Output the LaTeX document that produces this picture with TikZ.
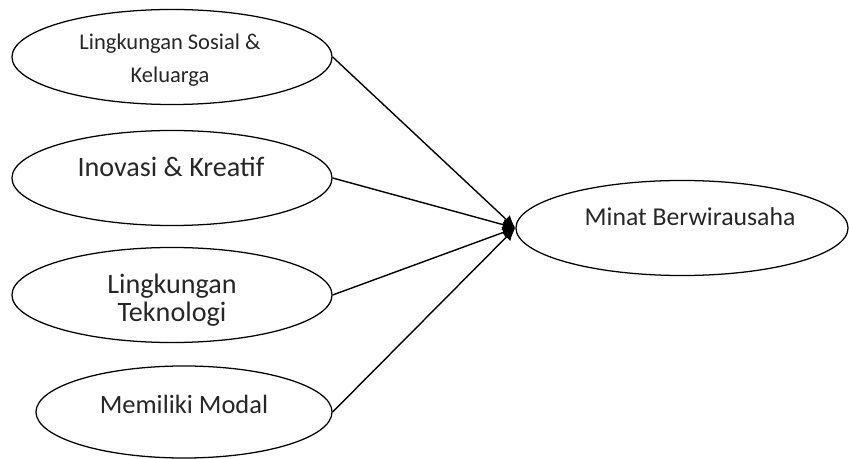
\documentclass[tikz,border=0pt]{standalone}
\usepackage{fontspec}
\setmainfont{Carlito}
\usetikzlibrary{shapes.geometric,arrows.meta}
\tikzset{
  var/.style={draw, line width=0.9pt, ellipse, inner sep=0pt},
  txt/.style={align=center, text=black!85},
  link/.style={line width=1pt, -{Latex[length=9pt,width=8pt]}}
}
\begin{document}
\begin{tikzpicture}[x=0.025cm,y=-0.025cm]
  \useasboundingbox (0,0) rectangle (849,459);
  % independent variables
  \node[var, minimum width=8cm, minimum height=2.375cm] (sosial) at (172,57) {};
  \node[var, minimum width=8cm, minimum height=2.375cm] (inovasi) at (172,178) {};
  \node[var, minimum width=8cm, minimum height=2.375cm] (teknologi) at (172,295) {};
  \node[var, minimum width=7.4cm, minimum height=2.3cm] (modal) at (184,412) {};
  % dependent variable
  \node[var, minimum width=8.3cm, minimum height=2.375cm] (minat) at (682,228) {};
  \node[txt, font=\fontsize{16}{23.5}\selectfont] (tsosial) at (170,60) {Lingkungan Sosial \&\\Keluarga};
  \node[txt, font=\fontsize{20}{24}\selectfont] (tinovasi) at (171,167) {Inovasi \& Kreatif};
  \node[txt, font=\fontsize{20}{20}\selectfont] (tteknologi) at (172,300) {Lingkungan\\Teknologi};
  \node[txt, font=\fontsize{18.8}{22}\selectfont] (tmodal) at (184,404) {Memiliki Modal};
  \node[txt, font=\fontsize{18.3}{22}\selectfont] (tminat) at (690,217) {Minat Berwirausaha};
  % arrows
  \draw[link] (sosial.east) -- (minat.west);% first
  \draw[link] (inovasi.east) -- (minat.west);% second
  \draw[link] (teknologi.east) -- (minat.west);% third
  \draw[link] (modal.east) -- (minat.west);% fourth
\end{tikzpicture}
\end{document}
